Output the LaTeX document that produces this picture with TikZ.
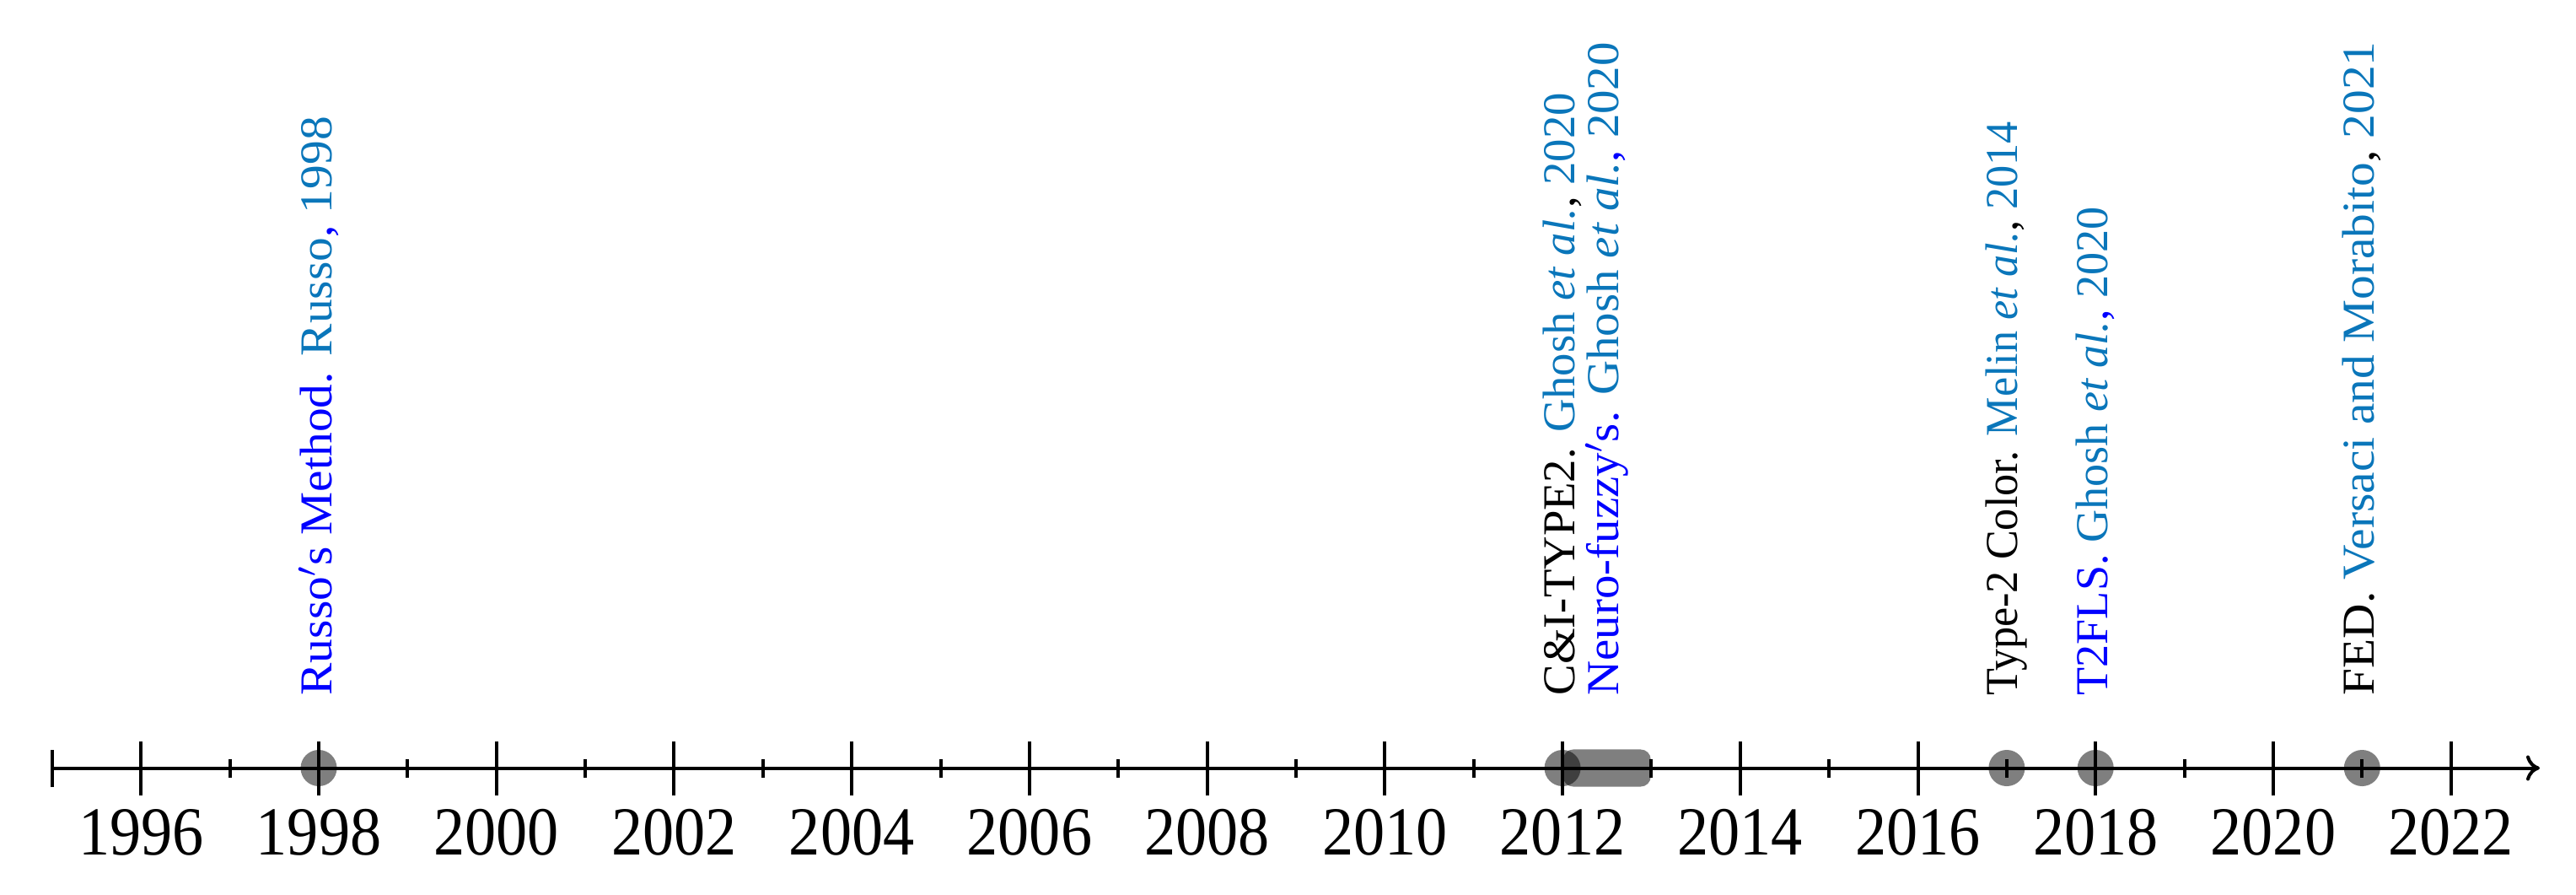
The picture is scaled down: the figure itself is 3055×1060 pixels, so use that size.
\documentclass[tikz,border=0pt]{standalone}
\usepackage{fontspec}
\setmainfont{Liberation Serif}
\usetikzlibrary{arrows.meta}
\definecolor{citec}{RGB}{10,118,186}
\definecolor{lblue}{RGB}{0,0,255}
\tikzset{
  axisline/.style={line width=0.04cm},
  bigtick/.style={line width=0.04cm},
  smalltick/.style={line width=0.04cm},
  yearlbl/.style={anchor=base, inner sep=0pt, font=\fontsize{23.2}{27}\selectfont},
  evlbl/.style={rotate=90, anchor=west, inner sep=0pt, font=\fontsize{15.4}{18}\selectfont},
  evdot/.style={circle, fill=black, fill opacity=0.5, draw=none, inner sep=0pt, minimum size=0.43cm},
  evbar/.style={rectangle, rounded corners=0.12cm, fill=black, fill opacity=0.5, draw=none, inner sep=0pt, minimum width=1.04cm, minimum height=0.44cm}
}
\newcommand{\YX}[1]{{167.3+(#1-1996)*105.36}}
\newcommand{\LB}[2][1.06]{\scalebox{#1}[1]{#2}}
\newcommand{\YL}[1]{\scalebox{0.91}[1]{#1}}
\begin{document}
\begin{tikzpicture}[x=0.01cm,y=0.01cm]
\useasboundingbox (0,0) rectangle (3055,1060);
% axis
\coordinate (axstart) at (\YX{1995},149.5);
\coordinate (axend) at (\YX{2023},149.5);
\draw[axisline,-{To[length=0.16cm,width=0.3cm]}] (axstart) -- (axend);
\draw[bigtick] (\YX{1995},127) -- (\YX{1995},171);
\foreach \yr in {1996,1998,...,2022}{
  \draw[bigtick] (\YX{\yr},117) -- (\YX{\yr},181);
  \node[yearlbl] (y\yr) at (\YX{\yr},47) {\YL{\yr}};
}
\foreach \yr in {1997,1999,...,2021}{
  \draw[smalltick] (\YX{\yr},138) -- (\YX{\yr},160);
}
% events
\node[evdot] (e1998) at (\YX{1998},149.5) {};
\node[evdot] (e2012) at (\YX{2012},149.5) {};
\node[evbar] (r2012) at (\YX{2012.5},149.5) {};
\node[evdot] (e2017) at (\YX{2017},149.5) {};
\node[evdot] (e2018) at (\YX{2018},149.5) {};
\node[evdot] (e2021) at (\YX{2021},149.5) {};
% labels
\node[evlbl] (l1998) at (\YX{1998},235) {\LB{\color{lblue}Russo$'$s Method. \color{citec}Russo\color{lblue}, \color{citec}1998}};
\node[evlbl] (l2012) at (\YX{2012},235) {\LB[1.01]{C\&I-TYPE2. \textcolor{citec}{Ghosh \textit{et al.}}, \textcolor{citec}{2020}}};
\node[evlbl] (l2012b) at (\YX{2012.5},235) {\LB[1.05]{\color{lblue}Neuro-fuzzy$'$s. \textcolor{citec}{Ghosh \textit{et al.}}, \textcolor{citec}{2020}}};
\node[evlbl] (l2017) at (\YX{2017},235) {\LB[0.965]{Type-2 Color. \textcolor{citec}{Melin \textit{et al.}}, \textcolor{citec}{2014}}};
\node[evlbl] (l2018) at (\YX{2018},235) {\LB[1.0]{\color{lblue}T2FLS. \textcolor{citec}{Ghosh \textit{et al.}}, \textcolor{citec}{2020}}};
\node[evlbl] (l2021) at (\YX{2021},235) {\LB{FED. \textcolor{citec}{Versaci and Morabito}, \textcolor{citec}{2021}}};
\end{tikzpicture}
\end{document}
